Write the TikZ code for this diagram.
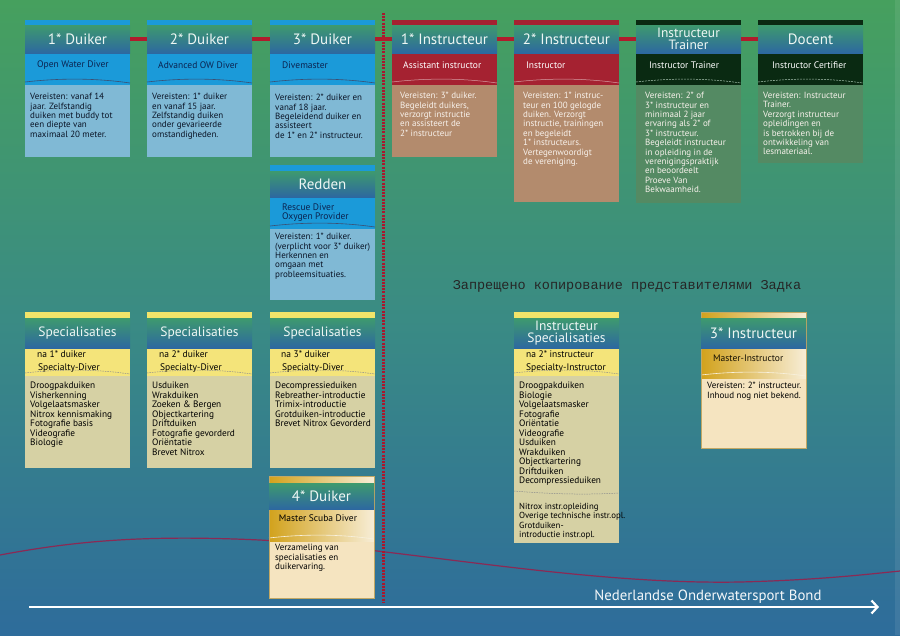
\documentclass[tikz,border=0pt]{standalone}
\usepackage{fontspec}
\setmainfont{PT Sans}
\newfontfamily\wmfont{Liberation Mono}
\usetikzlibrary{arrows.meta}

\definecolor{kBgTop}{HTML}{46A05E}
\definecolor{kBgMid}{HTML}{3A8B84}
\definecolor{kBgBot}{HTML}{2E6C9B}
\definecolor{kHdTop}{HTML}{3E9A6E}
\definecolor{kHdBot}{HTML}{2D68A0}
\definecolor{kHdText}{HTML}{EEF7F4}
\definecolor{kLink}{HTML}{B01C2C}
\definecolor{kDiv}{HTML}{A8182E}
\definecolor{kSea}{HTML}{8A2A55}
\definecolor{kDuikBlue}{HTML}{1B9AD9}
\definecolor{kDuikBody}{HTML}{80B9D5}
\definecolor{kDuikText}{HTML}{0B2350}
\definecolor{kDuikInk}{HTML}{0A1426}
\definecolor{kInstrRed}{HTML}{A52231}
\definecolor{kInstrBody}{HTML}{B38B6D}
\definecolor{kTrDark}{HTML}{0A2A12}
\definecolor{kTrBody}{HTML}{548A63}
\definecolor{kSpecStrip}{HTML}{F2E46A}
\definecolor{kSpecYel}{HTML}{F4E47A}
\definecolor{kSpecBody}{HTML}{D6D1A4}
\definecolor{kGoldA}{HTML}{D2A21C}
\definecolor{kGoldB}{HTML}{F7EDD6}
\definecolor{kGoldBody}{HTML}{F5E4C0}
\definecolor{kGoldEdge}{HTML}{C2A864}
\definecolor{kWhiteTxt}{HTML}{F8F2EC}

\newcommand{\cardbox}[7]{%
  \fill[#1body] (#2,#6) rectangle (#2+105,#7);
  \fill[#1band] (#2,#5) rectangle (#2+105,#6);
  \fill[#1strip] (#2,#3) rectangle (#2+105,#4);
  \draw[#1wave] (#2,#6-3) .. controls (#2+35,#6-7) and (#2+70,#6-7) .. (#2+105,#6-2);
}

\begin{document}
\begin{tikzpicture}[x=1pt, y=-1pt,
  hdr/.style={minimum width=105pt, inner sep=0pt, top color=kHdTop, bottom color=kHdBot,
    text=kHdText, font=\fontsize{15}{13}\selectfont, align=center},
  hdrsmall/.style={hdr, font=\fontsize{13.5}{11.8}\selectfont},
  hdrspec/.style={hdr, font=\fontsize{13.5}{12}\selectfont},
  duikstrip/.style={fill=kDuikBlue}, duikband/.style={fill=kDuikBlue},
  duikbody/.style={fill=kDuikBody}, duikwave/.style={draw=kDuikText!80, line width=0.6pt},
  instrstrip/.style={fill=kInstrRed}, instrband/.style={fill=kInstrRed},
  instrbody/.style={fill=kInstrBody}, instrwave/.style={draw=kInstrRed!45!white, line width=0.5pt},
  trstrip/.style={fill=kTrDark}, trband/.style={fill=kTrDark},
  trbody/.style={fill=kTrBody}, trwave/.style={draw=kTrBody!50!white, line width=0.5pt, dash pattern=on 2pt off 1pt},
  specstrip/.style={fill=kSpecStrip}, specband/.style={fill=kSpecYel},
  specbody/.style={fill=kSpecBody}, specwave/.style={draw=black!45, line width=0.5pt, dash pattern=on 1.5pt off 1pt},
  goldstrip/.style={left color=kGoldA, right color=kGoldB}, goldband/.style={left color=kGoldA, right color=kGoldB},
  goldbody/.style={fill=kGoldBody}, goldwave/.style={draw=white!85!kGoldA, line width=0.6pt},
  sub/.style={anchor=west, inner sep=0pt, font=\fontsize{9.5}{9}\selectfont},
  bodytext/.style={anchor=north west, inner sep=0pt, align=left, font=\fontsize{9}{9.4}\selectfont},
  listtext/.style={anchor=north west, inner sep=0pt, align=left, text=black, font=\fontsize{9.3}{9.5}\selectfont},
  link/.style={draw=kLink, line width=3.5pt},
  divider/.style={draw=kDiv, line width=3pt, dash pattern=on 2pt off 1.2pt}
]
\useasboundingbox (0,0) rectangle (900,635);
% background
\fill[top color=kBgTop, bottom color=kBgBot, middle color=kBgMid] (0,0) rectangle (900,635);
\fill[white, opacity=0.08] (895,0) rectangle (900,635);

% sea line
\draw[kSea, line width=1.2pt] (0,555) .. controls (80,540) and (150,535) .. (260,540)
  .. controls (400,548) and (580,585) .. (740,582) .. controls (820,580) and (870,574) .. (900,571);

% divider
\coordinate (divtop) at (383,13);
\coordinate (divbot) at (383,602);
\draw[divider] (divtop) -- (divbot);

% ---------- top row ----------
\cardbox{duik}{25}{20}{25}{53}{85}{157}
\node[hdr, minimum height=28pt] (c1) at (77.5,39) {1* Duiker};
\node[sub, text=kDuikText] (c1s) at (37,65) {Open Water Diver};
\node[bodytext, text=kDuikInk] (c1b) at (30,93) {Vereisten: vanaf 14\\jaar. Zelfstandig\\duiken met buddy tot\\een diepte van\\maximaal 20 meter.};

\cardbox{duik}{147}{20}{25}{53}{85}{157}
\node[hdr, minimum height=28pt] (c2) at (199.5,39) {2* Duiker};
\node[sub, text=kDuikText] (c2s) at (158,65) {Advanced OW Diver};
\node[bodytext, text=kDuikInk] (c2b) at (152,93) {Vereisten: 1* duiker\\en vanaf 15 jaar.\\Zelfstandig duiken\\onder gevarieerde\\omstandigheden.};

\cardbox{duik}{270}{20}{25}{53}{85}{157}
\node[hdr, minimum height=28pt] (c3) at (322.5,39) {3* Duiker};
\node[sub, text=kDuikText] (c3s) at (282,65) {Divemaster};
\node[bodytext, text=kDuikInk] (c3b) at (275,94) {Vereisten: 2* duiker en\\vanaf 18 jaar.\\Begeleidend duiker en\\assisteert\\de 1* en 2* instructeur.};

\cardbox{instr}{392}{20}{25}{53}{85}{157}
\node[hdr, minimum height=28pt] (c4) at (444.5,39) {1* Instructeur};
\node[sub, text=white] (c4s) at (403,65) {Assistant instructor};
\node[bodytext, text=kWhiteTxt] (c4b) at (400,92) {Vereisten: 3* duiker.\\Begeleidt duikers,\\verzorgt instructie\\en assisteert de\\2* instructeur};

\cardbox{instr}{514}{20}{25}{53}{85}{202}
\node[hdr, minimum height=28pt] (c5) at (566.5,39) {2* Instructeur};
\node[sub, text=white] (c5s) at (526,65) {Instructor};
\node[bodytext, text=kWhiteTxt] (c5b) at (523,92) {Vereisten: 1* instruc-\\teur en 100 gelogde\\duiken. Verzorgt\\instructie, trainingen\\en begeleidt\\1* instructeurs.\\Vertegenwoordigt\\de vereniging.};

\cardbox{tr}{636}{20}{25}{53}{85}{203}
\node[hdrsmall, minimum height=28pt] (c6) at (688.5,39) {Instructeur\\Trainer};
\node[sub, text=white] (c6s) at (649,65) {Instructor Trainer};
\node[bodytext, text=kWhiteTxt] (c6b) at (645,92) {Vereisten: 2* of\\3* instructeur en\\minimaal 2 jaar\\ervaring als 2* of\\3* instructeur.\\Begeleidt instructeur\\in opleiding in de\\verenigingspraktijk\\en beoordeelt\\Proeve Van\\Bekwaamheid.};

\cardbox{tr}{758}{20}{25}{53}{85}{163}
\node[hdr, minimum height=28pt] (c7) at (810.5,39) {Docent};
\node[sub, text=white] (c7s) at (772,65) {Instructor Certifier};
\node[bodytext, text=kWhiteTxt] (c7b) at (763,92) {Vereisten: Instructeur\\Trainer.\\Verzorgt instructeur\\opleidingen en\\is betrokken bij de\\ontwikkeling van\\lesmateriaal.};

\draw[link] (c1) -- (c2);
\draw[link] (c2) -- (c3);
\draw[link] (c3) -- (c4);
\draw[link] (c4) -- (c5);
\draw[link] (c5) -- (c6);
\draw[link] (c6) -- (c7);

% ---------- Redden ----------
\cardbox{duik}{270}{165}{171}{197}{229}{300}
\node[hdr, minimum height=26pt] (rd) at (322.5,184) {Redden};
\node[bodytext, text=kDuikText, font=\fontsize{9.5}{9}\selectfont] (rds) at (282,204) {Rescue Diver\\Oxygen Provider};
\node[bodytext, text=kDuikInk] (rdb) at (275,233) {Vereisten: 1* duiker.\\(verplicht voor 3* duiker)\\Herkennen en\\omgaan met\\probleemsituaties.};

% ---------- Specialisaties ----------
\cardbox{spec}{25}{312}{318}{348}{376}{468}
\node[hdrspec, minimum height=30pt] (s1) at (77.5,333) {Specialisaties};
\node[sub, text=black] (s1a) at (37,354) {na 1* duiker};
\node[sub, text=black] (s1b) at (38,368) {Specialty-Diver};
\node[listtext] (s1l) at (30,382) {Droogpakduiken\\Visherkenning\\Volgelaatsmasker\\Nitrox kennismaking\\Fotografie basis\\Videografie\\Biologie};

\cardbox{spec}{147}{312}{318}{348}{376}{468}
\node[hdrspec, minimum height=30pt] (s2) at (199.5,333) {Specialisaties};
\node[sub, text=black] (s2a) at (159,354) {na 2* duiker};
\node[sub, text=black] (s2b) at (160,368) {Specialty-Diver};
\node[listtext] (s2l) at (152,382) {Usduiken\\Wrakduiken\\Zoeken \& Bergen\\Objectkartering\\Driftduiken\\Fotografie gevorderd\\Oriëntatie\\Brevet Nitrox};

\cardbox{spec}{270}{312}{318}{348}{376}{468}
\node[hdrspec, minimum height=30pt] (s3) at (322.5,333) {Specialisaties};
\node[sub, text=black] (s3a) at (281,354) {na 3* duiker};
\node[sub, text=black] (s3b) at (282,368) {Specialty-Diver};
\node[listtext] (s3l) at (275,382) {Decompressieduiken\\Rebreather-introductie\\Trimix-introductie\\Grotduiken-introductie\\Brevet Nitrox Gevorderd};

% ---------- Instructeur Specialisaties ----------
\cardbox{spec}{514}{312}{318}{348}{376}{543}
\node[hdrspec, minimum height=30pt] (is) at (566.5,333) {Instructeur\\Specialisaties};
\node[sub, text=black] (isa) at (526,354) {na 2* instructeur};
\node[sub, text=black] (isb) at (526,368) {Specialty-Instructor};
\node[listtext] (isl) at (519,382) {Droogpakduiken\\Biologie\\Volgelaatsmasker\\Fotografie\\Oriëntatie\\Videografie\\Usduiken\\Wrakduiken\\Objectkartering\\Driftduiken\\Decompressieduiken};
\draw[specwave] (514,491) .. controls (550,494) and (585,495) .. (619,493);
\node[listtext, font=\fontsize{8.8}{9.3}\selectfont] (isl2) at (519,503) {Nitrox instr.opleiding\\Overige technische instr.opl.\\Grotduiken-\\introductie instr.opl.};

% ---------- 3* Instructeur ----------
\cardbox{gold}{701}{312}{318}{348}{378}{448}
\draw[kGoldEdge, line width=0.6pt] (701,312) rectangle (806,448);
\node[hdr, minimum height=30pt] (i3) at (753.5,333) {3* Instructeur};
\node[sub, text=black!90!kGoldA] (i3s) at (713,358) {Master-Instructor};
\node[bodytext, text=black] (i3b) at (707,382) {Vereisten: 2* instructeur.\\Inhoud nog niet bekend.};

% ---------- 4* Duiker ----------
\cardbox{gold}{269}{476}{483}{509}{541}{598}
\draw[kGoldEdge, line width=0.6pt] (269,476) rectangle (374,598);
\node[hdr, minimum height=26pt] (d4) at (321.5,496) {4* Duiker};
\node[sub, anchor=center, text=black] (d4s) at (318,518) {Master Scuba Diver};
\node[bodytext, text=black, font=\fontsize{9}{9.5}\selectfont] (d4b) at (275,544) {Verzameling van\\specialisaties en\\duikervaring.};

% ---------- watermark ----------
\node[font=\wmfont\fontsize{13.5}{14}\selectfont, text=black!85, inner sep=0pt] (wm) at (627,286) {Запрещено копирование представителями Задка};

% ---------- bottom arrow ----------
\coordinate (arS) at (29,607);
\coordinate (arE) at (879,607);
\draw[white, line width=2.2pt, -{Straight Barb[length=6pt,width=13pt]}] (arS) -- (arE);
\node[font=\fontsize{14.8}{14}\selectfont, text=white!95!kBgBot, inner sep=0pt] (nob) at (708,597) {Nederlandse Onderwatersport Bond};
\end{tikzpicture}
\end{document}
